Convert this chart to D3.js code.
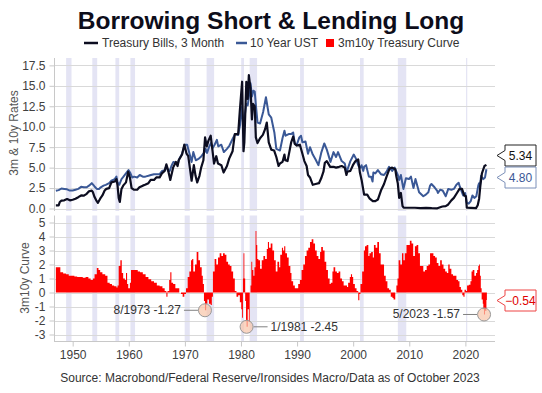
<!DOCTYPE html>
<html>
<head>
<meta charset="utf-8">
<script src="https://cdn.jsdelivr.net/npm/d3@7"></script>
<style>
  body { margin: 0; background: #fff; }
  svg { display: block; font-family: "Liberation Sans", Arial, sans-serif; }
</style>
</head>
<body>
<div id="chart"></div>
<script>
// Treasury Bills, 3 Month  [year, %]
var bill3m = [
  [1947.0,0.38],[1947.5,0.38],[1947.7,0.8],[1948.0,0.97],[1948.5,1.0],[1949.0,1.16],[1949.5,1.0],
  [1950.0,1.08],[1950.5,1.2],[1951.0,1.39],[1951.5,1.6],[1952.0,1.57],[1952.5,1.8],[1952.9,2.1],
  [1953.4,2.2],[1953.6,2.0],[1953.9,1.4],[1954.2,1.0],[1954.5,0.7],[1954.9,1.2],[1955.3,1.6],
  [1955.7,2.2],[1956.0,2.4],[1956.5,2.5],[1956.9,3.2],[1957.5,3.3],[1957.8,3.6],[1958.0,2.8],
  [1958.2,1.3],[1958.4,0.8],[1958.7,2.4],[1959.0,2.8],[1959.5,3.2],[1959.9,4.5],[1960.2,3.8],
  [1960.5,2.5],[1960.9,2.3],[1961.5,2.3],[1961.9,2.6],[1962.5,2.8],[1962.9,2.9],[1963.5,3.1],
  [1963.9,3.5],[1964.5,3.5],[1964.9,3.8],[1965.5,3.8],[1965.9,4.3],[1966.4,4.6],[1966.7,5.4],
  [1967.0,4.7],[1967.4,3.5],[1967.9,5.0],[1968.4,5.7],[1968.7,5.2],[1968.9,5.9],[1969.5,6.6],
  [1969.9,7.8],[1970.3,6.7],[1970.6,6.4],[1970.9,4.9],[1971.2,3.4],[1971.6,5.3],[1971.9,4.0],
  [1972.2,3.2],[1972.6,4.0],[1972.9,5.0],[1973.3,5.9],[1973.6,8.7],[1973.9,7.6],[1974.2,8.3],
  [1974.6,8.9],[1974.9,7.2],[1975.2,5.5],[1975.6,6.4],[1975.9,5.5],[1976.5,5.3],[1976.9,4.4],
  [1977.5,5.2],[1977.9,6.1],[1978.5,7.0],[1978.9,9.1],[1979.5,9.1],[1979.8,12.0],[1980.2,15.5],
  [1980.45,7.0],[1980.6,8.1],[1980.95,15.5],[1981.2,13.4],[1981.4,16.3],[1981.7,14.7],[1981.95,10.9],
  [1982.15,12.8],[1982.45,12.5],[1982.65,8.7],[1982.95,8.0],[1983.4,8.6],[1983.9,9.0],[1984.3,9.7],
  [1984.6,10.5],[1984.95,8.1],[1985.4,7.2],[1985.9,7.1],[1986.3,6.3],[1986.7,5.2],[1986.95,5.5],
  [1987.4,5.7],[1987.75,6.6],[1987.9,5.9],[1988.3,5.8],[1988.7,7.2],[1988.95,8.1],[1989.3,8.8],
  [1989.6,7.9],[1989.95,7.7],[1990.5,7.8],[1990.95,6.7],[1991.3,5.8],[1991.7,5.2],[1991.95,4.1],
  [1992.3,3.8],[1992.8,2.9],[1993.3,3.0],[1993.9,3.1],[1994.3,3.7],[1994.7,4.5],[1994.95,5.6],
  [1995.3,5.8],[1995.9,5.1],[1996.5,5.1],[1996.95,5.0],[1997.5,5.1],[1997.95,5.2],[1998.5,5.0],
  [1998.8,4.1],[1998.95,4.5],[1999.5,4.6],[1999.95,5.3],[2000.4,5.8],[2000.9,6.0],[2001.2,4.4],
  [2001.5,3.5],[2001.95,1.7],[2002.5,1.7],[2002.95,1.2],[2003.5,0.9],[2003.95,0.9],[2004.4,1.1],
  [2004.95,2.2],[2005.5,3.0],[2005.95,3.9],[2006.5,4.9],[2006.95,5.0],[2007.5,4.8],[2007.7,3.9],
  [2007.95,3.1],[2008.2,1.3],[2008.5,1.9],[2008.8,0.3],[2009.0,0.1],[2010.0,0.1],[2011.0,0.1],
  [2012.0,0.05],[2013.0,0.07],[2014.0,0.04],[2015.0,0.03],[2015.9,0.25],[2016.5,0.3],[2016.95,0.5],
  [2017.5,1.0],[2017.95,1.3],[2018.5,1.9],[2018.95,2.4],[2019.4,2.4],[2019.8,1.6],[2020.1,1.5],
  [2020.25,0.1],[2021.0,0.08],[2021.9,0.05],[2022.2,0.4],[2022.45,1.2],[2022.7,3.0],[2022.95,4.3],
  [2023.4,5.2],[2023.75,5.34]
];

// 10 Year UST  [year, %]
var ust10y = [
  [1947.0,2.17],[1947.5,2.25],[1948.0,2.45],[1948.5,2.4],[1949.0,2.35],[1949.5,2.2],[1950.0,2.2],
  [1950.5,2.3],[1951.0,2.4],[1951.5,2.65],[1952.0,2.6],[1952.5,2.6],[1952.9,2.8],[1953.4,3.1],
  [1953.9,2.7],[1954.3,2.4],[1954.7,2.4],[1955.0,2.6],[1955.5,2.8],[1955.9,2.9],[1956.5,3.1],
  [1956.9,3.4],[1957.5,3.6],[1957.8,3.9],[1958.0,3.2],[1958.3,2.9],[1958.7,3.6],[1958.95,3.8],
  [1959.5,4.3],[1959.95,4.7],[1960.3,4.3],[1960.6,3.8],[1960.95,3.9],[1961.5,3.8],[1961.95,4.1],
  [1962.5,3.9],[1962.95,3.9],[1963.5,4.0],[1963.95,4.1],[1964.5,4.2],[1964.95,4.2],[1965.5,4.2],
  [1965.95,4.6],[1966.4,4.7],[1966.7,5.2],[1967.0,4.6],[1967.3,4.6],[1967.6,5.2],[1967.95,5.7],
  [1968.4,5.6],[1968.7,5.4],[1968.95,6.0],[1969.5,6.7],[1969.95,7.8],[1970.4,7.8],[1970.95,6.4],
  [1971.2,5.7],[1971.5,6.9],[1971.95,5.9],[1972.5,6.1],[1972.95,6.4],[1973.5,6.9],[1973.7,7.3],
  [1973.95,6.8],[1974.3,7.5],[1974.65,8.0],[1974.95,7.4],[1975.3,7.8],[1975.7,8.4],[1975.95,7.6],
  [1976.5,7.8],[1976.95,6.9],[1977.5,7.3],[1977.95,7.7],[1978.5,8.5],[1978.95,9.1],[1979.5,9.0],
  [1979.85,10.3],[1980.15,12.4],[1980.45,9.8],[1980.7,11.5],[1980.95,12.8],[1981.2,12.6],[1981.45,13.9],
  [1981.7,15.3],[1981.95,13.7],[1982.2,14.4],[1982.45,14.3],[1982.7,12.3],[1982.95,10.5],[1983.4,10.4],
  [1983.95,11.8],[1984.45,13.6],[1984.95,11.5],[1985.4,11.1],[1985.95,9.3],[1986.3,7.3],[1986.6,7.2],
  [1986.95,7.1],[1987.4,8.6],[1987.75,9.5],[1987.95,8.9],[1988.5,9.1],[1988.95,9.1],[1989.3,9.3],
  [1989.6,7.9],[1989.95,7.8],[1990.4,8.7],[1990.7,8.9],[1990.95,8.1],[1991.5,8.2],[1991.95,6.7],
  [1992.3,7.5],[1992.8,6.6],[1993.3,6.0],[1993.8,5.3],[1994.3,6.8],[1994.85,7.96],[1995.3,7.2],
  [1995.95,5.7],[1996.5,6.9],[1996.95,6.3],[1997.3,6.9],[1997.95,5.8],[1998.5,5.5],[1998.8,4.5],
  [1998.95,4.7],[1999.5,5.8],[1999.95,6.4],[2000.1,6.6],[2000.5,6.1],[2000.95,5.2],[2001.3,5.0],
  [2001.5,5.3],[2001.8,4.6],[2001.95,5.1],[2002.3,5.3],[2002.8,3.9],[2003.2,3.9],[2003.45,3.3],
  [2003.6,4.4],[2003.95,4.3],[2004.4,4.7],[2004.95,4.2],[2005.5,4.1],[2005.95,4.5],[2006.4,5.1],
  [2006.95,4.6],[2007.4,5.0],[2007.95,4.1],[2008.2,3.5],[2008.5,4.1],[2008.95,2.4],[2009.4,3.7],
  [2009.95,3.6],[2010.3,3.9],[2010.75,2.5],[2011.1,3.6],[2011.75,2.0],[2012.5,1.5],[2012.95,1.7],
  [2013.4,2.0],[2013.7,2.8],[2013.95,3.0],[2014.5,2.6],[2014.95,2.2],[2015.1,1.9],[2015.5,2.3],
  [2015.95,2.2],[2016.5,1.5],[2016.95,2.4],[2017.5,2.3],[2017.95,2.4],[2018.4,2.9],[2018.8,3.15],
  [2019.0,2.7],[2019.6,1.6],[2019.95,1.9],[2020.25,0.7],[2020.6,0.6],[2020.95,0.9],[2021.25,1.6],
  [2021.6,1.3],[2021.95,1.5],[2022.3,2.8],[2022.45,3.1],[2022.6,2.7],[2022.8,4.0],[2022.95,3.8],
  [2023.2,3.6],[2023.5,3.8],[2023.75,4.80]
];

// 3m10y Treasury Curve  [year, %]
var curve3m10y = [
  [1947.0,1.8],[1947.6,1.8],[1947.8,1.45],[1948.3,1.35],[1948.8,1.3],[1949.3,1.2],[1949.8,1.2],
  [1950.3,1.15],[1950.8,1.1],[1951.3,1.1],[1951.8,1.05],[1952.3,1.1],[1952.8,1.0],[1953.2,0.9],
  [1953.6,1.0],[1953.9,1.3],[1954.3,1.75],[1954.6,1.6],[1954.9,1.45],[1955.3,1.3],[1955.8,1.2],
  [1956.2,0.7],[1956.6,0.6],[1957.0,0.5],[1957.4,0.45],[1957.8,0.35],[1958.0,0.5],[1958.2,1.9],
  [1958.5,2.3],[1958.75,1.4],[1959.0,1.0],[1959.3,0.9],[1959.5,1.4],[1959.7,0.6],[1959.9,0.3],
  [1960.2,0.7],[1960.4,1.6],[1960.8,1.6],[1961.2,1.6],[1961.6,1.5],[1962.0,1.45],[1962.5,1.3],
  [1963.0,1.1],[1963.5,0.95],[1964.0,0.8],[1964.5,0.7],[1965.0,0.5],[1965.5,0.45],[1966.0,0.3],
  [1966.4,0.1],[1966.7,-0.3],[1966.9,0.1],[1967.2,0.9],[1967.4,1.45],[1967.6,0.7],[1967.9,0.6],
  [1968.3,0.3],[1968.7,0.3],[1969.0,0.0],[1969.3,-0.1],[1969.6,-0.3],[1969.9,-0.1],[1970.2,0.3],
  [1970.5,1.1],[1970.8,1.5],[1971.1,2.3],[1971.3,2.4],[1971.5,1.5],[1971.8,2.0],[1972.1,2.9],
  [1972.4,2.3],[1972.7,1.8],[1973.0,1.2],[1973.2,0.6],[1973.4,-0.6],[1973.58,-1.27],[1973.8,-0.8],
  [1974.0,-0.5],[1974.3,-0.8],[1974.6,-0.9],[1974.8,-0.3],[1975.0,1.5],[1975.3,2.4],[1975.6,2.0],
  [1975.9,2.5],[1976.2,2.8],[1976.5,2.6],[1976.8,2.8],[1977.1,2.7],[1977.4,2.2],[1977.7,2.0],
  [1978.0,1.9],[1978.3,1.5],[1978.6,1.0],[1978.9,0.1],[1979.2,-0.3],[1979.5,-0.2],[1979.8,-0.7],
  [1980.05,-1.2],[1980.2,-1.8],[1980.35,1.0],[1980.45,2.8],[1980.6,1.0],[1980.75,-0.6],[1980.9,-2.0],
  [1981.0,-2.45],[1981.2,-1.2],[1981.4,-2.1],[1981.55,0.0],[1981.7,0.5],[1981.85,2.2],[1982.0,1.6],
  [1982.2,1.2],[1982.4,1.8],[1982.6,4.4],[1982.75,3.4],[1982.9,2.4],[1983.1,2.3],[1983.4,1.7],
  [1983.7,2.3],[1984.0,2.6],[1984.3,2.4],[1984.6,3.1],[1984.8,3.6],[1985.0,3.2],[1985.3,3.5],
  [1985.6,3.0],[1985.9,2.3],[1986.2,1.5],[1986.5,2.2],[1986.8,1.8],[1987.0,2.7],[1987.3,3.2],
  [1987.5,3.0],[1987.7,3.3],[1987.9,2.8],[1988.2,2.5],[1988.5,1.9],[1988.8,1.4],[1989.0,0.8],
  [1989.3,0.5],[1989.6,0.3],[1989.9,0.3],[1990.2,0.6],[1990.5,0.9],[1990.8,1.6],[1991.1,2.0],
  [1991.4,2.6],[1991.7,3.0],[1992.0,3.2],[1992.3,3.6],[1992.6,3.8],[1992.9,3.5],[1993.2,3.0],
  [1993.5,2.6],[1993.8,2.4],[1994.1,2.9],[1994.3,3.25],[1994.6,3.0],[1994.9,2.2],[1995.2,1.6],
  [1995.5,1.0],[1995.8,0.6],[1996.0,0.7],[1996.3,1.5],[1996.5,1.8],[1996.8,1.5],[1997.1,1.4],
  [1997.4,1.5],[1997.7,1.0],[1998.0,0.8],[1998.3,0.5],[1998.6,0.5],[1998.9,0.4],[1999.1,0.7],
  [1999.4,1.1],[1999.6,1.3],[1999.8,1.1],[2000.0,0.6],[2000.3,0.3],[2000.6,0.1],[2000.9,-0.55],
  [2001.1,-0.1],[2001.3,0.6],[2001.6,1.5],[2001.9,3.0],[2002.1,3.3],[2002.4,3.4],[2002.7,2.6],
  [2002.9,2.8],[2003.2,2.9],[2003.5,2.5],[2003.7,3.4],[2004.0,3.2],[2004.3,3.6],[2004.6,2.8],
  [2004.9,2.0],[2005.2,2.0],[2005.5,1.2],[2005.8,0.8],[2006.1,0.3],[2006.4,0.2],[2006.7,-0.3],
  [2007.0,-0.4],[2007.2,-0.5],[2007.5,0.0],[2007.7,0.5],[2007.9,1.0],[2008.1,2.3],[2008.4,2.0],
  [2008.7,2.8],[2008.95,2.3],[2009.2,2.8],[2009.5,3.4],[2009.8,3.4],[2010.1,3.7],[2010.4,3.5],
  [2010.7,2.6],[2011.0,3.3],[2011.3,3.4],[2011.6,2.8],[2011.9,1.9],[2012.2,1.9],[2012.5,1.5],
  [2012.8,1.6],[2013.1,1.9],[2013.4,2.0],[2013.7,2.8],[2014.0,2.8],[2014.3,2.6],[2014.6,2.5],
  [2014.9,2.1],[2015.2,1.9],[2015.5,2.3],[2015.8,2.0],[2016.1,1.7],[2016.4,1.5],[2016.7,1.4],
  [2016.95,2.0],[2017.2,1.7],[2017.5,1.3],[2017.8,1.2],[2018.1,1.2],[2018.4,0.9],[2018.7,0.8],
  [2018.95,0.4],[2019.2,0.2],[2019.45,-0.2],[2019.65,-0.3],[2019.85,0.2],[2020.1,0.1],[2020.3,0.5],
  [2020.6,0.55],[2020.9,0.8],[2021.1,1.5],[2021.3,1.6],[2021.6,1.2],[2021.9,1.4],[2022.1,1.6],
  [2022.3,1.9],[2022.45,2.0],[2022.6,1.2],[2022.75,0.3],[2022.9,-0.5],[2023.1,-0.8],[2023.2,-1.2],
  [2023.33,-1.57],[2023.5,-1.3],[2023.75,-0.54]
];

// NBER recessions [start, end]
var recessions = [
  [1948.83,1949.79],[1953.5,1954.37],[1957.62,1958.29],[1960.29,1961.12],[1969.96,1970.87],
  [1973.87,1975.21],[1980.04,1980.54],[1981.54,1982.87],[1990.54,1991.21],[2001.21,2001.87],
  [2007.96,2009.46],[2020.12,2020.29]
];

// curve lows called out on the chart [label, year, value, side]
var lows = [
  ["8/1973 -1.27", 1973.58, -1.27, "left"],
  ["1/1981 -2.45", 1981.0, -2.45, "right"],
  ["5/2023 -1.57", 2023.33, -1.57, "left"]
];

var decadeTicks = [1950, 1960, 1970, 1980, 1990, 2000, 2010, 2020];
var rateTicks = [0, 2.5, 5, 7.5, 10, 12.5, 15, 17.5];
var curveTicks = [-3, -2, -1, 0, 1, 2, 3, 4, 5];

var W = 542, H = 393;
var cBill = "#0c0d20", cUst = "#3a5896", cCurve = "#ff0000";
var gridColor = "#d9d9d9", bandColor = "#e4e4f4", textColor = "#404040";

var svg = d3.select("#chart").append("svg")
  .attr("width", W).attr("height", H);

var x = d3.scaleLinear().domain([1946.67, 2025.28]).range([54, 495]);
var yTop = d3.scaleLinear().domain([-0.3, 18.4]).range([211, 58]);
var yBot = d3.scaleLinear().domain([-3.5, 5.5]).range([341.5, 215.5]);

// title + legend
svg.append("text")
  .attr("x", 271).attr("y", 29)
  .attr("text-anchor", "middle")
  .style("font-size", "24.5px").style("font-weight", "bold")
  .style("fill", "#0d0d1a")
  .text("Borrowing Short & Lending Long");

var lg = svg.append("g").style("font-size", "12px").style("fill", "#333");
lg.append("line").attr("x1", 84).attr("x2", 98).attr("y1", 43).attr("y2", 43)
  .attr("stroke", cBill).attr("stroke-width", 2.5);
lg.append("text").attr("x", 102).attr("y", 47).text("Treasury Bills, 3 Month");
lg.append("line").attr("x1", 236).attr("x2", 247).attr("y1", 43).attr("y2", 43)
  .attr("stroke", cUst).attr("stroke-width", 2.5);
lg.append("text").attr("x", 250).attr("y", 47).text("10 Year UST");
lg.append("rect").attr("x", 326).attr("y", 39).attr("width", 8).attr("height", 8)
  .attr("fill", cCurve);
lg.append("text").attr("x", 338).attr("y", 47).text("3m10y Treasury Curve");

// draw a panel background: recession bands, grid, y axis
function panel(y, ticks, fmt) {
  var r = y.range();
  var g = svg.append("g");
  g.selectAll("rect.band")
    .data(recessions)
    .enter().append("rect")
    .attr("x", function (d) { return x(d[0]); })
    .attr("width", function (d) { return Math.max(1.2, x(d[1]) - x(d[0])); })
    .attr("y", r[1]).attr("height", r[0] - r[1])
    .attr("fill", bandColor);
  g.selectAll("line.grid")
    .data(ticks)
    .enter().append("line")
    .attr("x1", 54).attr("x2", 495)
    .attr("y1", function (d) { return Math.round(y(d)) + 0.5; })
    .attr("y2", function (d) { return Math.round(y(d)) + 0.5; })
    .attr("stroke", gridColor);
  var ax = svg.append("g")
    .attr("transform", "translate(54.5,0)")
    .call(d3.axisLeft(y).tickValues(ticks).tickFormat(fmt).tickSize(5).tickPadding(4));
  ax.select(".domain").attr("stroke", "#c8c8c8").attr("d", "M0," + r[0] + "V" + r[1]);
  ax.selectAll(".tick line").attr("stroke", "#c8c8c8");
  ax.selectAll("text").style("font-size", "12px").style("fill", textColor)
    .style("font-family", "Liberation Sans, Arial, sans-serif");
  return g;
}

panel(yTop, rateTicks, d3.format(".1f"));
panel(yBot, curveTicks, function (d) { return d < 0 ? "-" + Math.abs(d) : d; });

// rates
var lineTop = function (data) {
  return d3.line()
    .x(function (d) { return x(d[0]); })
    .y(function (d) { return yTop(d[1]); })(data);
};
svg.append("path").attr("d", lineTop(ust10y))
  .attr("fill", "none").attr("stroke", cUst).attr("stroke-width", 2)
  .attr("stroke-linejoin", "round");
svg.append("path").attr("d", lineTop(bill3m))
  .attr("fill", "none").attr("stroke", cBill).attr("stroke-width", 2.2)
  .attr("stroke-linejoin", "round");

// curve as monthly step area
var last = curve3m10y[curve3m10y.length - 1];
var curveData = curve3m10y.concat([[last[0] + 1 / 12, last[1]]]);
svg.append("path")
  .attr("d", d3.area()
    .curve(d3.curveStepAfter)
    .x(function (d) { return x(d[0]); })
    .y0(yBot(0))
    .y1(function (d) { return yBot(d[1]); })(curveData))
  .attr("fill", cCurve);

// x axis
var xa = svg.append("g")
  .attr("transform", "translate(0,341.5)")
  .call(d3.axisBottom(x).tickValues(decadeTicks).tickFormat(d3.format("d")).tickSize(5).tickPadding(4));
xa.select(".domain").attr("stroke", "#c8c8c8").attr("d", "M54,0H495");
xa.selectAll(".tick line").attr("stroke", "#c8c8c8");
xa.selectAll("text").style("font-size", "12px").style("fill", textColor)
  .style("font-family", "Liberation Sans, Arial, sans-serif");

// axis titles
svg.append("text")
  .attr("transform", "translate(18,133)rotate(-90)")
  .attr("text-anchor", "middle")
  .style("font-size", "12px").style("fill", "#555")
  .text("3m & 10y Rates");
svg.append("text")
  .attr("transform", "translate(29,278)rotate(-90)")
  .attr("text-anchor", "middle")
  .style("font-size", "12px").style("fill", "#555")
  .text("3m10y Curve");

// callouts for the lows
var ann = svg.append("g").selectAll("g")
  .data(lows).enter().append("g");
ann.append("line")
  .attr("x1", function (d) { return x(d[1]) + (d[3] == "left" ? -21 : 7); })
  .attr("x2", function (d) { return x(d[1]) + (d[3] == "left" ? -7 : 21); })
  .attr("y1", function (d) { return yBot(d[2]); })
  .attr("y2", function (d) { return yBot(d[2]); })
  .attr("stroke", "#808080");
ann.append("circle")
  .attr("cx", function (d) { return x(d[1]); })
  .attr("cy", function (d) { return yBot(d[2]); })
  .attr("r", 6.5)
  .attr("fill", "rgba(248,196,168,0.7)")
  .attr("stroke", "#999");
ann.append("text")
  .attr("x", function (d) { return x(d[1]) + (d[3] == "left" ? -24 : 24); })
  .attr("y", function (d) { return yBot(d[2]) + 4; })
  .attr("text-anchor", function (d) { return d[3] == "left" ? "end" : "start"; })
  .style("font-size", "12px").style("fill", "#333")
  .text(function (d) { return d[0]; });

// last value tags on the right
function tag(value, cy, color, textFill) {
  var l = 505, r = 536, h = 21, tx = 497;
  var t = cy - h / 2, b = cy + h / 2;
  svg.append("path")
    .attr("d", "M" + l + "," + t + "H" + r + "V" + b + "H" + l + "V" + (cy + 5) +
      "L" + tx + "," + cy + "L" + l + "," + (cy - 5) + "Z")
    .attr("fill", "#fff").attr("stroke", color);
  svg.append("text")
    .attr("x", (l + r) / 2).attr("y", cy + 4)
    .attr("text-anchor", "middle")
    .style("font-size", "12px").style("fill", textFill)
    .text(d3.format(".2f")(value));
}
var lastBill = bill3m[bill3m.length - 1][1];
var lastUst = ust10y[ust10y.length - 1][1];
tag(lastBill, Math.round(yTop(lastBill)) - 9.5, "#222", "#111");
tag(lastUst, Math.round(yTop(lastUst)) + 8.5, "#7b8fb8", "#3a5896");
tag(last[1], Math.round(yBot(last[1])) + 0.5, "#ee4444", "#e00000");

// source
svg.append("text")
  .attr("x", 270).attr("y", 382)
  .attr("text-anchor", "middle")
  .style("font-size", "12px").style("fill", "#333")
  .text("Source: Macrobond/Federal Reserve/Ironsides Macro/Data as of October 2023");
</script>
</body>
</html>
